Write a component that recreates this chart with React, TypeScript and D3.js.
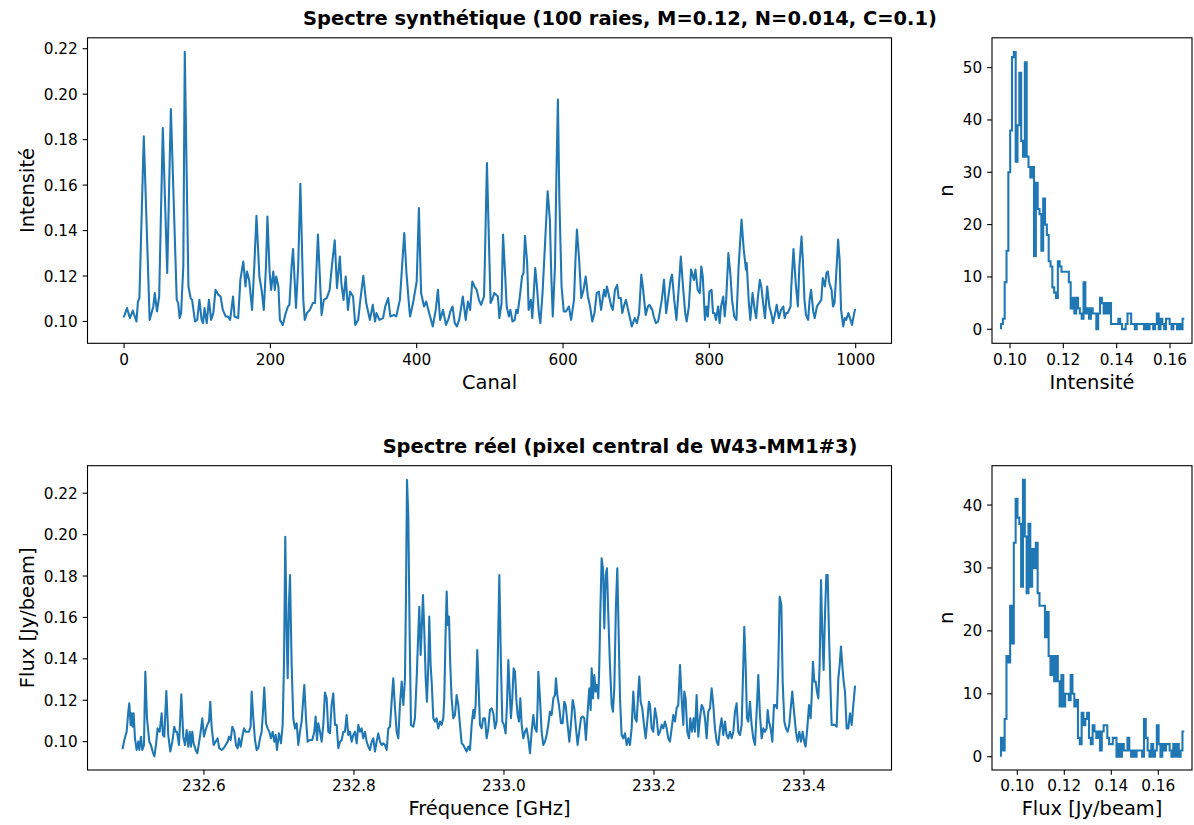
import React from "react";
import * as d3 from "d3";

// ---------- DATA ----------
// Synthetic spectrum: [channel, intensity]
const synthSpectrum: [number, number][] = [
  [0,.1022],[4,.1059],[8,.1015],[12,.1048],[17,.1000],[19,.1088],[21,.1103],[27,.1815],[35,.1007],[40,.1066],[42,.1125],[45,.1044],[48,.1110],[53,.1851],[59,.1213],[64,.1935],[72,.1095],[74,.1081],[76,.1015],[78,.1037],[81,.1242],[83,.2186],[88,.1154],[91,.1103],[93,.1095],[97,.1000],[100,.1007],[103,.1095],[106,.1007],[108,.0993],[110,.1059],[113,.0993],[116,.1095],[119,.1007],[122,.1037],[125,.1139],[129,.1117],[132,.1110],[135,.1051],[139,.1022],[142,.1022],[145,.1007],[149,.1110],[151,.1022],[156,.1015],[159,.1183],[163,.1264],[166,.1154],[168,.1220],[171,.1183],[175,.1051],[178,.1242],[181,.1465],[185,.1198],[188,.1139],[191,.1051],[194,.1242],[196,.1462],[199,.1213],[201,.1139],[204,.1220],[206,.1139],[208,.1198],[211,.1154],[213,.1007],[217,.0985],[221,.1037],[224,.1066],[226,.1073],[229,.1242],[231,.1319],[235,.1059],
  [238,.1242],[241,.1606],[245,.1095],[247,.1007],[250,.1037],[254,.1051],[258,.1081],[261,.1081],[265,.1382],[270,.1029],[273,.1095],[277,.1103],[281,.1139],[284,.1242],[288,.1357],[291,.1147],[295,.1286],[297,.1169],[300,.1095],[303,.1198],[306,.1051],[309,.1132],[313,.1110],[316,.0985],[320,.1007],[323,.1095],[327,.1201],[331,.1081],[336,.1007],[340,.1073],[343,.1000],[345,.1037],[349,.1007],[354,.1015],[357,.1066],[361,.1103],[364,.1022],[369,.1029],[372,.1022],[377,.1095],[380,.1242],[383,.1389],[386,.1213],[390,.1051],[391,.1022],[395,.1081],[400,.1176],[403,.1499],[406,.1125],[410,.1066],[413,.1088],[417,.1037],[422,.0978],[426,.1051],[429,.1139],[432,.1007],[436,.1051],[440,.0985],[443,.1007],[446,.1044],[449,.1066],[452,.0993],[455,.0978],[458,.1007],[461,.1066],[463,.1110],[467,.1007],[470,.1088],[473,.1051],[476,.1176],[479,.1154],[482,.1139],[485,.1095],[488,.1073],[492,.1110],[493,.1242],[496,.1697],[499,.1316],[501,.1081],[503,.1095],[506,.1125],
  [511,.1110],[513,.1015],[516,.1081],[518,.1382],[521,.1198],[523,.1066],[526,.1022],[528,.1051],[531,.1000],[534,.1007],[536,.1051],[538,.1037],[541,.1110],[544,.1198],[546,.1213],[548,.1377],[551,.1257],[553,.1051],[556,.1095],[558,.1015],[560,.1125],[562,.1235],[564,.1169],[567,.1037],[569,.0993],[572,.1125],[575,.1316],[579,.1573],[582,.1448],[584,.1198],[586,.1022],[589,.1242],[591,.1653],[593,.1976],[595,.1536],[598,.1154],[601,.1044],[604,.1044],[608,.1066],[611,.1007],[615,.1095],[617,.1272],[619,.1404],[622,.1272],[625,.1103],[628,.1139],[631,.1198],[634,.1110],[637,.1066],[640,.1000],[643,.1037],[646,.1125],[649,.1132],[652,.1051],[656,.1139],[658,.1110],[660,.1154],[663,.1110],[666,.1066],[668,.1051],[671,.1139],[674,.1161],[676,.1103],[679,.1103],[681,.1037],[683,.1066],[686,.1095],[689,.1051],[691,.1022],[694,.0978],[698,.1015],[701,.0993],[704,.1037],[707,.1206],[709,.1154],[713,.1029],[716,.1066],[718,.1073],[722,.1051],[724,.1022],[727,.0993],[730,.1000],[732,.1037],[735,.1095],[738,.1183],[741,.1037],[744,.1110],[747,.1183],[749,.1206],[752,.1095],[755,.1007],[758,.1139],[761,.1286],[764,.1154],[767,.1037],[769,.1000],[772,.1066],[775,.1228],[779,.1183],[781,.1228],
  [784,.1139],[787,.1125],[789,.1242],[791,.1198],[794,.1007],[796,.1066],[798,.1022],[800,.1132],[803,.1139],[805,.1037],[807,.1037],[809,.1007],[812,.1066],[814,.0993],[816,.1066],[819,.1110],[821,.1022],[823,.1095],[826,.1301],[829,.1198],[831,.1095],[834,.1022],[837,.1007],[840,.1242],[844,.1448],[847,.1316],[850,.1228],[851,.1257],[854,.1081],[856,.1007],[859,.1125],[862,.1051],[864,.1015],[866,.1095],[869,.1183],[871,.1154],[873,.1095],[876,.1015],[879,.1154],[882,.1066],[885,.1029],[887,.0993],[890,.1037],[892,.1073],[895,.1015],[898,.1051],[901,.1066],[903,.1015],[905,.1037],[907,.1037],[911,.1066],[912,.1154],[915,.1319],[918,.1169],[921,.1066],[923,.1242],[926,.1374],[928,.1257],[930,.1095],[932,.1029],[935,.1007],[937,.1095],[939,.1139],[942,.1044],[944,.1015],[947,.1066],[950,.1081],[953,.1095],[955,.1191],[958,.1154],[960,.1213],[962,.1220],[964,.1169],[967,.1139],[969,.1066],[971,.1081],[973,.1183],[976,.1360],[978,.1272],[980,.1051],[983,.0978],[985,.1015],[987,.1007],[990,.1037],[993,.1007],[995,.0985],[998,.1037],[999,.1051]
];

// Real spectrum: [frequency GHz, flux Jy/beam]
const realSpectrum: [number, number][] = [
  [232.4916,.0968],[232.4938,.1008],[232.4969,.1048],[232.4991,.1145],[232.5004,.1185],[232.5022,.1081],[232.5036,.1137],[232.5049,.1072],[232.5062,.1137],[232.5080,.1016],[232.5102,.0960],[232.5124,.1000],[232.5138,.0960],[232.5160,.1024],[232.5178,.0960],[232.5200,.0984],[232.5218,.1338],[232.5240,.1113],[232.5271,.1000],[232.5293,.0984],[232.5316,.0952],[232.5338,.0928],[232.5360,.0984],[232.5382,.1064],[232.5409,.1048],[232.5436,.1137],[232.5453,.1032],[232.5471,.1024],[232.5498,.1245],[232.5524,.1032],[232.5551,.0952],[232.5578,.1000],[232.5604,.1072],[232.5622,.1048],[232.5640,.1048],[232.5667,.0984],[232.5698,.1229],[232.5724,.1024],[232.5747,.0984],[232.5769,.1056],[232.5791,.0976],[232.5809,.1048],[232.5827,.0976],[232.5844,.1048],[232.5862,.0992],[232.5889,.0960],[232.5911,.0944],[232.5933,.0992],[232.5956,.1048],[232.5978,.1113],[232.6000,.1024],[232.6022,.1056],[232.6044,.1081],[232.6067,.1097],[232.6084,.1193],[232.6102,.1072],[232.6129,.0984],[232.6156,.1000],[232.6182,.1016],[232.6204,.0968],[232.6236,.0960],[232.6262,.0968],[232.6289,.0984],[232.6316,.1000],[232.6333,.1024],[232.6356,.1008],[232.6378,.1072],[232.6404,.1048],[232.6427,.0984],[232.6449,.0968],[232.6467,.1016],[232.6489,.0976],[232.6511,.1024],[232.6533,.1064],[232.6556,.1048],[232.6578,.1048],[232.6600,.1048],[232.6622,.1072],[232.6636,.1242],[232.6658,.1113],[232.6680,.1008],[232.6702,.0960],[232.6724,.0968],[232.6747,.1016],[232.6769,.1048],[232.6787,.1145],[232.6804,.1261],[232.6827,.1089],[232.6849,.1064],[232.6871,.1048],[232.6893,.1016],[232.6916,.1048],[232.6938,.1000],[232.6956,.1032],[232.6973,.0960],[232.7000,.1040],[232.7027,.0992],[232.7049,.1081],[232.7067,.1370],[232.7084,.1990],
  [232.7102,.1531],[232.7116,.1306],[232.7133,.1660],[232.7147,.1805],[232.7169,.1370],[232.7191,.1113],[232.7213,.1064],[232.7236,.1089],[232.7258,.0984],[232.7280,.1048],[232.7302,.1097],[232.7324,.1209],[232.7338,.1274],[232.7360,.1113],[232.7382,.1000],[232.7413,.1008],[232.7444,.1008],[232.7471,.1048],[232.7489,.1121],[232.7507,.1008],[232.7524,.1089],[232.7547,.1048],[232.7569,.1000],[232.7591,.1081],[232.7613,.1237],[232.7636,.1209],[232.7658,.1048],[232.7680,.1040],[232.7702,.1177],[232.7724,.1233],[232.7747,.1081],[232.7769,.1081],[232.7791,.0968],[232.7813,.1000],[232.7836,.1008],[232.7858,.1048],[232.7880,.1048],[232.7902,.1129],[232.7924,.1032],[232.7947,.1048],[232.7969,.1000],[232.7991,.1032],[232.8013,.1048],[232.8036,.0992],[232.8058,.1081],[232.8080,.1048],[232.8102,.1064],[232.8124,.1016],[232.8147,.1048],[232.8169,.1000],[232.8191,.0976],[232.8213,.0960],[232.8236,.1000],[232.8258,.1016],[232.8280,.0952],[232.8302,.1000],[232.8324,.1040],[232.8347,.1000],[232.8369,.0984],[232.8391,.0992],[232.8413,.0984],[232.8436,.0960],[232.8458,.1064],[232.8480,.1072],[232.8502,.1193],[232.8524,.1306],[232.8547,.1161],[232.8569,.1048],[232.8591,.1016],[232.8613,.1177],[232.8636,.1290],[232.8658,.1177],[232.8680,.1306],[232.8693,.1692],[232.8707,.2264],[232.8724,.2095],[232.8742,.1531],[232.8760,.1081],[232.8791,.1072],[232.8813,.1113],[232.8836,.1306],[232.8858,.1531],[232.8871,.1652],[232.8889,.1419],[232.8902,.1531],[232.8920,.1708],[232.8938,.1531],[232.8956,.1306],[232.8973,.1193],[232.8991,.1370],[232.9004,.1604],[232.9022,.1370],[232.9036,.1290],[232.9058,.1113],[232.9080,.1097],[232.9102,.1113],[232.9124,.1064],[232.9147,.1097],[232.9169,.1081],[232.9191,.1113],[232.9204,.1209],[232.9222,.1531],[232.9236,.1725],[232.9249,.1564],[232.9267,.1604],[232.9284,.1370],[232.9302,.1209],[232.9324,.1113],[232.9347,.1129],[232.9369,.1225],[232.9391,.1177],[232.9413,.1081],[232.9436,.0992],[232.9458,.0984],[232.9480,.0968],[232.9502,.0952],[232.9524,.0976],[232.9547,.0960],[232.9569,.1081],[232.9591,.1153],[232.9604,.1113],[232.9622,.1177],[232.9644,.1443],[232.9658,.1306],[232.9680,.1081],[232.9702,.1064],[232.9724,.1113],[232.9747,.1113],
  [232.9769,.1016],[232.9791,.1064],[232.9813,.1153],[232.9836,.1161],[232.9858,.1137],[232.9880,.1064],[232.9902,.1097],[232.9924,.1531],[232.9938,.1805],[232.9960,.1370],[232.9978,.1097],[233.0000,.1081],[233.0022,.1040],[233.0040,.1177],[233.0058,.1394],[233.0076,.1242],[233.0093,.1113],[233.0111,.1209],[233.0129,.1354],[233.0147,.1338],[233.0164,.1209],[233.0182,.1129],[233.0200,.1097],[233.0218,.1209],[233.0236,.1081],[233.0258,.1016],[233.0280,.1048],[233.0302,.1064],[233.0324,.1016],[233.0347,.0944],[233.0369,.1048],[233.0391,.1129],[233.0413,.1064],[233.0436,.1048],[233.0449,.1185],[233.0458,.1338],[233.0480,.1209],[233.0502,.1048],[233.0524,.0984],[233.0547,.1000],[233.0569,.1032],[233.0591,.1081],[233.0613,.1145],[233.0636,.1129],[233.0658,.1209],[233.0680,.1225],[233.0693,.1306],[233.0711,.1225],[233.0733,.1177],[233.0760,.1089],[233.0782,.1089],[233.0804,.1193],[233.0822,.1177],[233.0849,.1081],[233.0871,.1000],[233.0893,.1081],[233.0916,.1201],[233.0938,.1161],[233.0960,.1064],[233.0982,.0984],[233.1004,.1048],[233.1027,.1113],[233.1049,.1121],[233.1071,.1113],[233.1093,.1008],[233.1116,.1145],[233.1138,.1258],[233.1156,.1153],[233.1169,.1354],[233.1187,.1209],[233.1204,.1322],[233.1222,.1242],[233.1240,.1274],[233.1258,.1209],[233.1271,.1370],[233.1284,.1612],[233.1302,.1886],[233.1320,.1837],[233.1338,.1547],[233.1356,.1805],[233.1373,.1837],[233.1391,.1612],[233.1413,.1370],[233.1436,.1177],[233.1453,.1145],[233.1471,.1258],[233.1493,.1660],[233.1511,.1837],[233.1524,.1612],[233.1547,.1209],[233.1569,.1032],[233.1591,.1016],[233.1613,.1040],[233.1636,.0984],[233.1658,.1016],[233.1680,.0984],[233.1702,.1064],[233.1724,.1242],[233.1747,.1113],[233.1769,.1097],[233.1791,.1242],[233.1804,.1314],[233.1822,.1193],[233.1844,.1161],[233.1867,.1081],[233.1889,.1016],[233.1911,.1097],[233.1933,.1193],[233.1947,.1177],[233.1969,.1064],[233.1991,.1048],[233.2013,.1161],[233.2036,.1113],[233.2058,.1032],[233.2080,.1048],[233.2102,.1081],[233.2124,.1064],[233.2147,.1097],[233.2169,.1064],[233.2191,.1016],[233.2213,.1000],[233.2236,.1064],[233.2258,.1129],[233.2280,.1097],[233.2302,.1161],[233.2324,.1177],[233.2347,.1370],[233.2369,.1209],[233.2391,.1081],[233.2404,.1242],
  [233.2422,.1209],[233.2444,.1048],[233.2467,.1016],[233.2484,.1113],[233.2507,.1048],[233.2529,.1113],[233.2547,.1048],[233.2569,.1225],[233.2591,.1024],[233.2613,.1113],[233.2636,.1177],[233.2658,.1161],[233.2680,.1113],[233.2702,.1016],[233.2724,.1145],[233.2747,.1161],[233.2769,.1258],[233.2791,.1177],[233.2813,.1064],[233.2836,.1000],[233.2858,.0984],[233.2880,.1064],[233.2902,.1113],[233.2924,.1032],[233.2947,.1097],[233.2969,.1032],[233.2991,.1016],[233.3013,.1048],[233.3036,.1016],[233.3058,.1048],[233.3080,.1145],[233.3102,.1185],[233.3124,.1048],[233.3147,.1032],[233.3169,.1081],[233.3191,.1370],[233.3204,.1555],[233.3222,.1370],[233.3240,.1113],[233.3258,.1097],[233.3280,.1193],[233.3302,.1081],[233.3324,.1016],[233.3347,.0984],[233.3369,.1145],[233.3391,.1322],[233.3413,.1129],[233.3436,.1016],[233.3458,.1064],[233.3480,.1048],[233.3502,.1064],[233.3516,.1153],[233.3533,.1097],[233.3556,.1064],[233.3578,.1000],[233.3600,.1177],[233.3622,.1177],[233.3640,.1161],[233.3658,.1370],[233.3676,.1700],[233.3698,.1660],[233.3716,.1290],[233.3738,.1097],[233.3760,.1064],[233.3782,.1048],[233.3804,.1081],[233.3827,.1177],[233.3844,.1242],[233.3867,.1145],[233.3893,.1048],[233.3916,.1000],[233.3938,.1048],[233.3960,.1000],[233.3982,.1048],[233.4004,.1000],[233.4022,.0976],[233.4044,.1064],[233.4067,.1177],[233.4089,.1113],[233.4102,.1209],[233.4120,.1386],[233.4138,.1290],[233.4156,.1290],[233.4173,.1242],[233.4191,.1209],[233.4209,.1370],[233.4227,.1781],[233.4244,.1531],[233.4262,.1346],[233.4280,.1612],[233.4298,.1805],[233.4316,.1805],[233.4333,.1531],[233.4351,.1290],[233.4369,.1081],[233.4391,.1081],[233.4413,.1081],[233.4436,.1072],[233.4458,.1306],[233.4476,.1370],[233.4493,.1459],[233.4511,.1370],[233.4529,.1290],[233.4547,.1242],[233.4569,.1064],[233.4591,.1064],[233.4613,.1137],[233.4636,.1081],[233.4658,.1177],[233.4680,.1266]
];

// Histograms (100 bins each)
const synthHistRange = [0.09663, 0.16538];
const synthHistCounts = [
  1,2,9,15,30,38,52,53,32,39, 49,36,33,51,33,31,29,31,14,28,
  23,22,15,25,20,18,13,12,8,7, 6,13,12,11,11,11,11,9,4,6,
  3,6,4,3,2,9,3,4,2,4, 3,3,0,3,6,5,3,5,3,5,
  1,1,1,1,2,1,0,0,1,3, 3,1,1,0,1,1,1,1,0,1,
  0,1,1,0,1,3,0,2,1,0, 2,2,1,0,1,1,0,1,0,2
];
const realHistRange = [0.09305, 0.17106];
const realHistCounts = [
  3,1,6,16,15,24,18,34,41,38, 37,27,44,35,26,37,27,33,30,34,
  26,24,24,24,19,23,16,13,16,12, 16,12,8,13,8,10,10,9,13,10,
  8,9,3,2,7,5,6,7,3,2, 5,4,3,4,1,4,5,5,3,2,
  2,3,3,0,2,0,2,1,1,3, 1,0,1,0,1,1,1,0,6,3,
  1,0,2,0,1,5,2,0,2,1, 2,2,1,0,2,0,2,0,1,4
];

// Ticks
const canalTicks = [0, 200, 400, 600, 800, 1000];
const intensityTicks = [0.10, 0.12, 0.14, 0.16, 0.18, 0.20, 0.22];
const freqTicks = [232.6, 232.8, 233.0, 233.2, 233.4];
const histXTicks = [0.10, 0.12, 0.14, 0.16];
const synthCountTicks = [0, 10, 20, 30, 40, 50];
const realCountTicks = [0, 10, 20, 30, 40];

// ---------- RENDERING ----------
const FONT = "'DejaVu Sans', sans-serif";
const C0 = "#1f77b4";
const TICK_FS = 15.28;
const LABEL_FS = 19.44;
const TL = 4.86;

type Scale = d3.ScaleLinear<number, number>;

function Panel(props: {
  xs: Scale; ys: Scale; xTicks: number[]; yTicks: number[];
  xFmt: (v: number) => string; yFmt: (v: number) => string;
  xLabel: string; yLabel: string; yLabelX: number; children?: React.ReactNode;
}) {
  const { xs, ys, xTicks, yTicks, xFmt, yFmt, xLabel, yLabel, yLabelX } = props;
  const [x0, x1] = xs.range();
  const [yb, yt] = ys.range();
  const tickLabelTop = yb + TL + 4.86;
  const xLabelBaseline = tickLabelTop + 0.996 * TICK_FS + 5.56 + 0.76 * LABEL_FS;
  return (
    <g>
      {props.children}
      {xTicks.map((t) => (
        <g key={"x" + t}>
          <line x1={xs(t)} x2={xs(t)} y1={yb} y2={yb + TL} stroke="#000" strokeWidth={1.1} />
          <text x={xs(t)} y={tickLabelTop + 0.76 * TICK_FS} textAnchor="middle" fontSize={TICK_FS}>{xFmt(t)}</text>
        </g>
      ))}
      {yTicks.map((t) => (
        <g key={"y" + t}>
          <line x1={x0 - TL} x2={x0} y1={ys(t)} y2={ys(t)} stroke="#000" strokeWidth={1.1} />
          <text x={x0 - TL - 4.86} y={ys(t) + 0.36 * TICK_FS} textAnchor="end" fontSize={TICK_FS}>{yFmt(t)}</text>
        </g>
      ))}
      <rect x={x0} y={yt} width={x1 - x0} height={yb - yt} fill="none" stroke="#000" strokeWidth={1.1} />
      <text x={(x0 + x1) / 2} y={xLabelBaseline} textAnchor="middle" fontSize={LABEL_FS}>{xLabel}</text>
      <text transform={`translate(${yLabelX},${(yb + yt) / 2}) rotate(-90)`} textAnchor="middle" fontSize={LABEL_FS}>{yLabel}</text>
    </g>
  );
}

function histPath(counts: number[], range: number[], xs: Scale, ys: Scale) {
  const n = counts.length;
  const w = (range[1] - range[0]) / n;
  const pts: [number, number][] = [[range[0], 0]];
  counts.forEach((c, i) => pts.push([range[0] + i * w, c]));
  pts.push([range[1], counts[n - 1]]);
  return d3.line<[number, number]>().x((d) => xs(d[0])).y((d) => ys(d[1])).curve(d3.curveStepAfter)(pts) || "";
}

export default function App() {
  const topX = d3.scaleLinear().domain([-49.95, 1048.95]).range([87.5, 891.5]);
  const topY = d3.scaleLinear().domain([0.0904, 0.2248]).range([343.3, 37.8]);
  const botX = d3.scaleLinear().domain([232.4447, 233.5167]).range([87.5, 891.5]);
  const botY = d3.scaleLinear().domain([0.0863, 0.2333]).range([770, 465.7]);
  const h1X = d3.scaleLinear().domain([0.09325, 0.16825]).range([992, 1192]);
  const h1Y = d3.scaleLinear().domain([-2.68, 55.7]).range([343.3, 37.8]);
  const h2X = d3.scaleLinear().domain([0.08923, 0.17434]).range([992, 1192]);
  const h2Y = d3.scaleLinear().domain([-2.11, 46.25]).range([770, 465.7]);

  const synthPath = d3.line<[number, number]>().x((d) => topX(d[0])).y((d) => topY(d[1]))(synthSpectrum) || "";
  const realPath = d3.line<[number, number]>().x((d) => botX(d[0])).y((d) => botY(d[1]))(realSpectrum) || "";

  const f2 = (v: number) => v.toFixed(2);
  const f1 = (v: number) => v.toFixed(1);
  const f0 = (v: number) => String(v);

  return (
    <div style={{ position: "absolute", left: 0, top: 0 }}>
      <svg width={1194} height={825} style={{ display: "block", background: "#fff" }} fontFamily={FONT}>
        <rect x={0} y={0} width={1194} height={825} fill="#fff" />
        <text x={620} y={24.9} textAnchor="middle" fontSize={LABEL_FS} fontWeight="bold">
          Spectre synthétique (100 raies, M=0.12, N=0.014, C=0.1)
        </text>
        <text x={620} y={452.8} textAnchor="middle" fontSize={LABEL_FS} fontWeight="bold">
          Spectre réel (pixel central de W43-MM1#3)
        </text>

        <Panel xs={topX} ys={topY} xTicks={canalTicks} yTicks={intensityTicks} xFmt={f0} yFmt={f2}
          xLabel="Canal" yLabel="Intensité" yLabelX={33.6}>
          <path d={synthPath} fill="none" stroke={C0} strokeWidth={2.08} strokeLinejoin="round" strokeLinecap="square" />
        </Panel>

        <Panel xs={h1X} ys={h1Y} xTicks={histXTicks} yTicks={synthCountTicks} xFmt={f2} yFmt={f0}
          xLabel="Intensité" yLabel="n" yLabelX={952.7}>
          <path d={histPath(synthHistCounts, synthHistRange, h1X, h1Y)} fill="none" stroke={C0} strokeWidth={2.08} strokeLinejoin="miter" />
        </Panel>

        <Panel xs={botX} ys={botY} xTicks={freqTicks} yTicks={intensityTicks} xFmt={f1} yFmt={f2}
          xLabel="Fréquence [GHz]" yLabel="Flux [Jy/beam]" yLabelX={33.6}>
          <path d={realPath} fill="none" stroke={C0} strokeWidth={2.08} strokeLinejoin="round" strokeLinecap="square" />
        </Panel>

        <Panel xs={h2X} ys={h2Y} xTicks={histXTicks} yTicks={realCountTicks} xFmt={f2} yFmt={f0}
          xLabel="Flux [Jy/beam]" yLabel="n" yLabelX={952.7}>
          <path d={histPath(realHistCounts, realHistRange, h2X, h2Y)} fill="none" stroke={C0} strokeWidth={2.08} strokeLinejoin="miter" />
        </Panel>
      </svg>
    </div>
  );
}
